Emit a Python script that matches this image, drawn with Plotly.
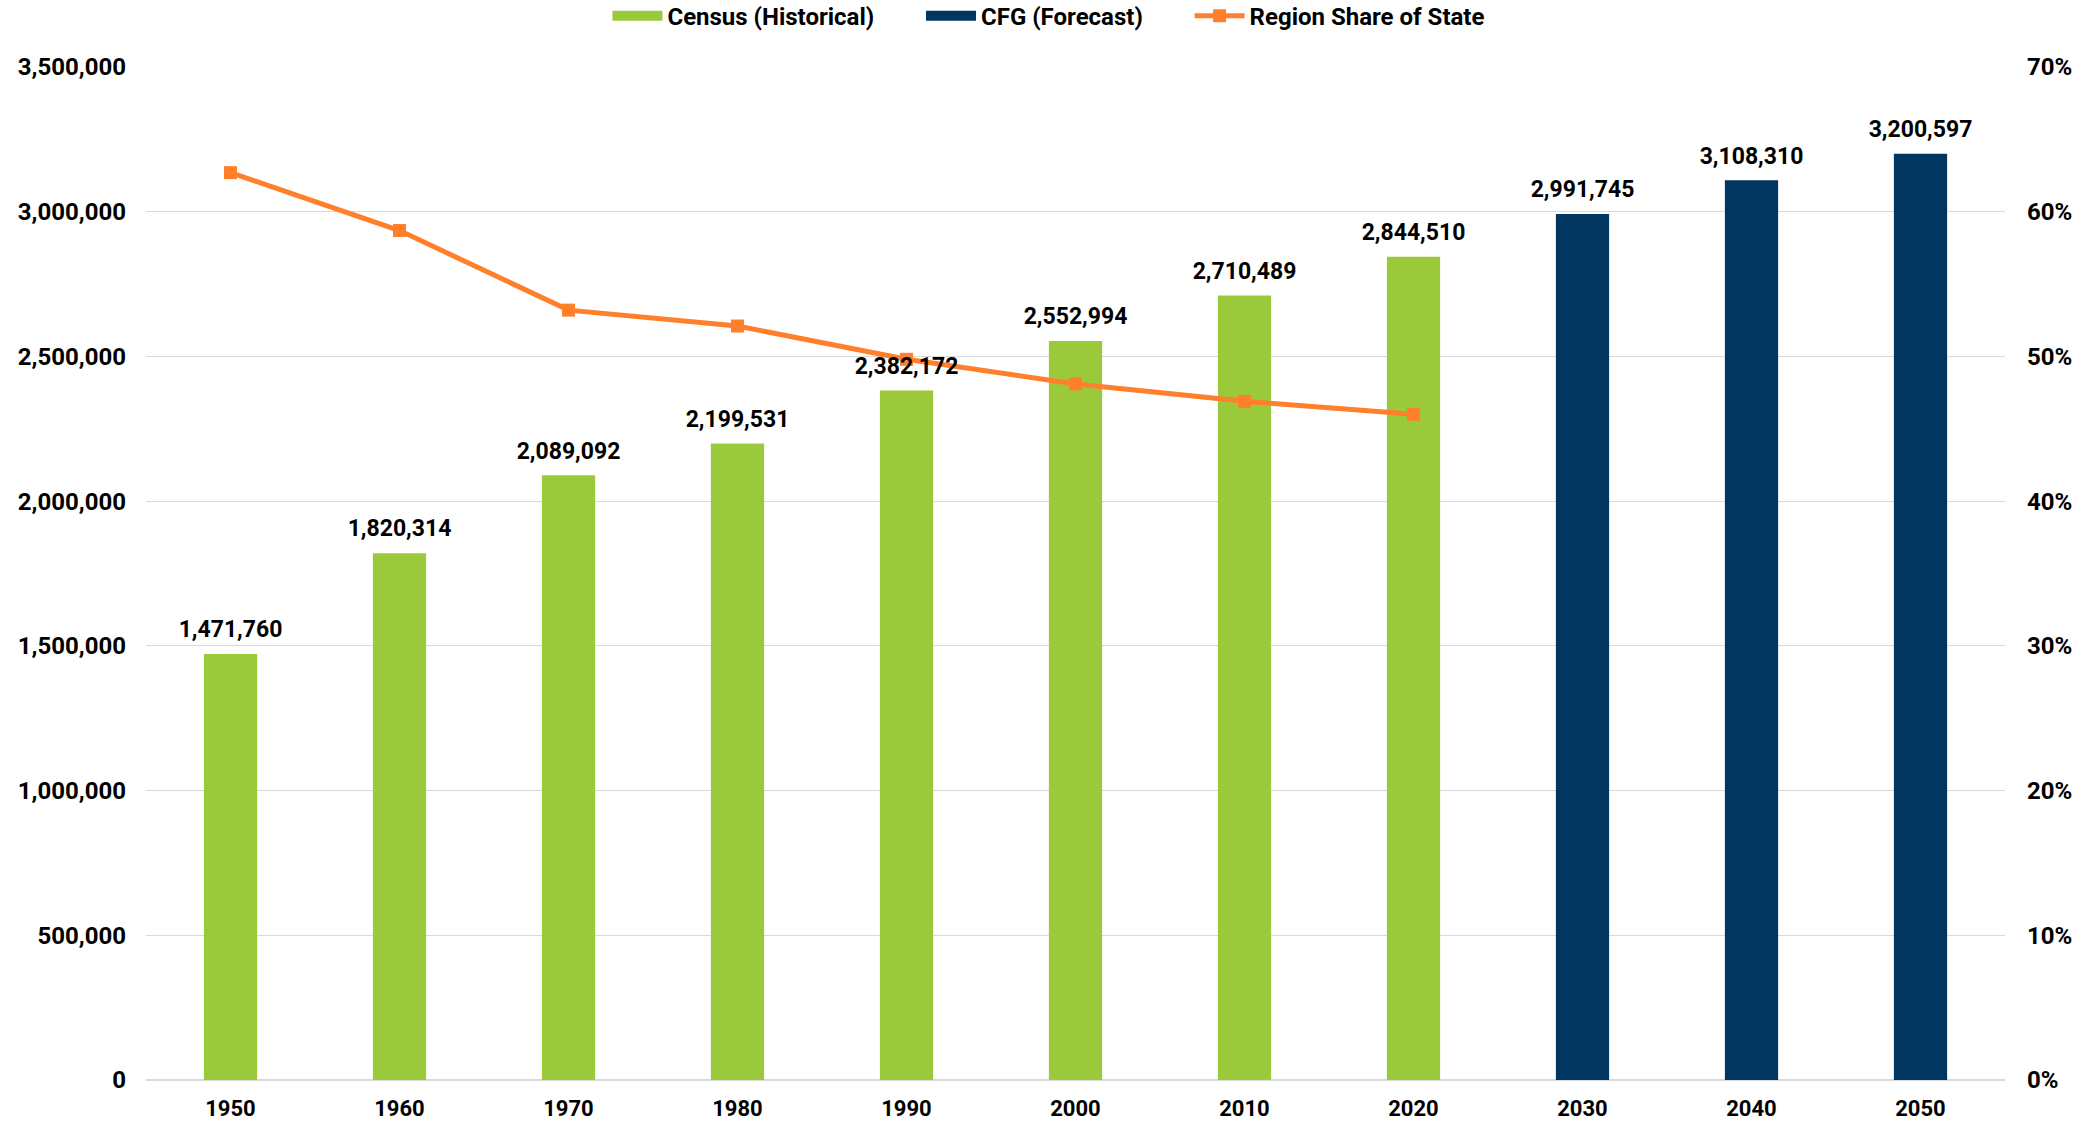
import plotly.graph_objects as go

years_hist = ["1950", "1960", "1970", "1980", "1990", "2000", "2010", "2020"]
pop_hist = [1471760, 1820314, 2089092, 2199531, 2382172, 2552994, 2710489, 2844510]
years_fcst = ["2030", "2040", "2050"]
pop_fcst = [2991745, 3108310, 3200597]
share_years = years_hist
share_vals = [0.627, 0.587, 0.532, 0.521, 0.498, 0.481, 0.469, 0.460]

GREEN = "#9ACA3C"
NAVY = "#003660"
ORANGE = "#FF7F2A"
FONT = "Roboto"
NB = "\u00a0"
POP_RANGE = [0, 3500000]

fig = go.Figure()
fig.add_trace(go.Bar(
    x=years_hist, y=pop_hist, name="Census (Historical)", showlegend=False,
    marker=dict(color=GREEN, line=dict(width=0)),
))
fig.add_trace(go.Bar(
    x=years_fcst, y=pop_fcst, name="CFG (Forecast)", showlegend=False,
    marker=dict(color=NAVY, line=dict(width=0)),
))
fig.add_trace(go.Scatter(
    x=share_years, y=share_vals, name="Region Share of State", yaxis="y2",
    mode="lines+markers", showlegend=False,
    line=dict(color=ORANGE, width=5),
    marker=dict(symbol="square", size=13, color=ORANGE),
))
# value labels above bars (on a top overlay axis so they sit above the line)
all_years = years_hist + years_fcst
all_pop = pop_hist + pop_fcst
fig.add_trace(go.Scatter(
    x=all_years, y=all_pop, yaxis="y3", mode="markers+text", showlegend=False,
    hoverinfo="skip",
    marker=dict(size=16, opacity=0),
    text=[f"{v:,}" for v in all_pop], textposition="top center",
    textfont=dict(family=FONT, size=23, color="black", weight="bold"),
    cliponaxis=False,
))
# legend entries
fig.add_trace(go.Scatter(x=[None], y=[None], mode="lines", name="Census (Historical)" + NB * 7,
                         line=dict(color=GREEN, width=12)))
fig.add_trace(go.Scatter(x=[None], y=[None], mode="lines", name="CFG (Forecast)" + NB * 7,
                         line=dict(color=NAVY, width=12)))
fig.add_trace(go.Scatter(x=[None], y=[None], mode="lines+markers", name="Region Share of State",
                         line=dict(color=ORANGE, width=5),
                         marker=dict(symbol="square", size=13, color=ORANGE)))

fig.update_layout(
    width=2087, height=1123,
    paper_bgcolor="white", plot_bgcolor="white",
    margin=dict(l=146, r=82, t=67, b=43, autoexpand=False),
    barmode="overlay", bargap=0.685,
    font=dict(family=FONT, size=20, color="black"),
    legend=dict(orientation="h", xref="container", x=0.5026, xanchor="center",
                y=1.0503, yanchor="middle",
                font=dict(family=FONT, size=24, color="black", weight="bold"),
                traceorder="normal", itemwidth=50, tracegroupgap=0),
    showlegend=True,
    xaxis=dict(
        type="category", categoryorder="array",
        categoryarray=all_years, range=[-0.5, 10.5],
        showgrid=False, showline=True, linecolor="#D9D9D9", linewidth=1,
        ticks="", automargin=False, ticklabelstandoff=9,
        tickfont=dict(family=FONT, size=22, color="black", weight="bold"),
    ),
    yaxis=dict(
        range=POP_RANGE, dtick=500000, tickformat=",",
        showgrid=True, gridcolor="#D9D9D9", gridwidth=1,
        zeroline=True, zerolinecolor="#D9D9D9", showline=False,
        ticks="", automargin=False, ticklabelstandoff=19,
        tickfont=dict(family=FONT, size=24, color="black", weight="bold"),
    ),
    yaxis2=dict(
        overlaying="y", side="right",
        range=[0, 0.7], dtick=0.1, tickformat=".0%",
        showgrid=False, zeroline=False, showline=False,
        ticks="", automargin=False, ticklabelstandoff=21,
        tickfont=dict(family=FONT, size=24, color="black", weight="bold"),
    ),
    yaxis3=dict(
        overlaying="y", side="left", range=POP_RANGE, visible=False,
        showgrid=False, zeroline=False, automargin=False,
    ),
)

fig.write_html("out.html", config={"displayModeBar": False},
               post_script="document.body.style.margin='0';document.body.style.overflow='hidden';")
